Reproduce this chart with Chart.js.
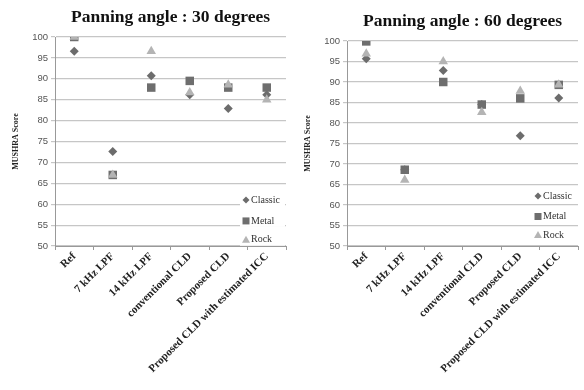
<!DOCTYPE html>
<html>
<head>
<meta charset="utf-8">
<script src="https://cdn.jsdelivr.net/npm/chart.js@4"></script>
<style>
  body { margin: 0; background: #fff; }
  .wrap { position: absolute; top: 0; width: 292px; height: 390px; }
</style>
</head>
<body>
<div class="wrap" style="left:0"><canvas id="chart30" width="292" height="390"></canvas></div>
<div class="wrap" style="left:292px"><canvas id="chart60" width="292" height="390"></canvas></div>
<script>
// categories and series
const categories = ['Ref', '7 kHz LPF', '14 kHz LPF', 'conventional CLD', 'Proposed CLD', 'Proposed CLD with estimated ICC'];
const seriesNames = ['Classic', 'Metal', 'Rock'];

const classic30 = [96.6, 72.6, 90.7, 86.2, 82.9, 86.2];
const metal30   = [100, 67.0, 87.9, 89.5, 87.9, 87.9];
const rock30    = [100, 67.0, 96.6, 86.7, 88.6, 85.0];

const classic60 = [95.7, 68.6, 92.8, 84.5, 76.9, 86.1];
const metal60   = [99.9, 68.6, 90.0, 84.5, 86.0, 89.3];
const rock60    = [96.9, 66.1, 95.0, 82.6, 87.8, 89.3];

const yTicks = [50, 55, 60, 65, 70, 75, 80, 85, 90, 95, 100];

const serif = '"Liberation Serif", "Times New Roman", serif';
const sans = '"Liberation Sans", Arial, sans-serif';

// legend drawn inside the plot, bottom right
const innerLegend = {
  id: 'innerLegend',
  afterDraw(chart) {
    const { ctx, chartArea } = chart;
    const ys = chart.options.plugins.innerLegend.at;
    ctx.save();
    ctx.font = '10px ' + serif;
    ctx.textBaseline = 'middle';
    chart.data.datasets.forEach((ds, i) => {
      const y = chart.scales.y.getPixelForValue(ys[i]);
      const x = chartArea.right - 40;
      ctx.fillStyle = '#fff';
      ctx.fillRect(x - 6, y - 6, 45, 12);
      ctx.fillStyle = ds.backgroundColor;
      ctx.beginPath();
      if (ds.pointStyle === 'rectRot') {
        ctx.moveTo(x, y - 3.5); ctx.lineTo(x + 3.5, y); ctx.lineTo(x, y + 3.5); ctx.lineTo(x - 3.5, y);
      } else if (ds.pointStyle === 'rect') {
        ctx.rect(x - 3.5, y - 3.5, 7, 7);
      } else {
        ctx.moveTo(x, y - 4); ctx.lineTo(x + 4, y + 3); ctx.lineTo(x - 4, y + 3);
      }
      ctx.closePath();
      ctx.fill();
      ctx.fillStyle = '#333';
      ctx.fillText(ds.label, x + 5, y);
    });
    ctx.restore();
  }
};

function makeChart(id, title, classic, metal, rock, legendAt, top) {
  new Chart(document.getElementById(id), {
    type: 'line',
    data: {
      labels: categories,
      datasets: [
        { label: seriesNames[0], data: classic, pointStyle: 'rectRot', pointRadius: 4.5,
          backgroundColor: '#6c6c6c', borderColor: '#6c6c6c', order: 2 },
        { label: seriesNames[1], data: metal, pointStyle: 'rect', pointRadius: 6,
          backgroundColor: '#6e6e6e', borderColor: '#6e6e6e', order: 1 },
        { label: seriesNames[2], data: rock, pointStyle: 'triangle', pointRadius: 5.5,
          backgroundColor: '#b4b4b4', borderColor: '#b4b4b4', order: 0 }
      ].map(d => Object.assign(d, { showLine: false, pointBorderWidth: 0 }))
    },
    options: {
      responsive: false,
      animation: false,
      layout: { padding: { right: 4, top: 0 } },
      plugins: {
        legend: { display: false },
        tooltip: { enabled: false },
        title: {
          display: true,
          fullSize: false,
          text: title,
          color: '#111',
          font: { family: serif, size: 17.5, weight: 'bold' },
          padding: { top: top - 30, bottom: 9 }
        },
        innerLegend: { at: legendAt }
      },
      scales: {
        x: {
          offset: true,
          grid: { display: true, offset: true, drawOnChartArea: false, drawTicks: true, tickLength: 4, color: '#999' },
          border: { color: '#999' },
          ticks: {
            minRotation: 45, maxRotation: 45, autoSkip: false, padding: 0,
            color: '#222',
            font: { family: serif, size: 11, weight: 'bold' }
          },
          afterFit(scale) { scale.height = 144; }
        },
        y: {
          min: 50, max: 100,
          afterBuildTicks(scale) { scale.ticks = yTicks.map(v => ({ value: v })); },
          grid: { color: '#c6c6c6', tickLength: 4, lineWidth: 1.2 },
          border: { color: '#999' },
          ticks: { color: '#555', padding: 3, font: { family: sans, size: 9.5 } },
          title: {
            display: true, text: 'MUSHRA Score', color: '#222',
            font: { family: serif, size: 8, weight: 'bold' }, padding: { top: 11, bottom: 4 }
          },
          afterFit(scale) { scale.width = 55; }
        }
      }
    },
    plugins: [innerLegend]
  });
}

makeChart('chart30', 'Panning angle : 30 degrees', classic30, metal30, rock30, [61, 56, 51.5], 37);
makeChart('chart60', 'Panning angle : 60 degrees', classic60, metal60, rock60, [62.2, 57.2, 52.7], 41);
</script>
</body>
</html>
